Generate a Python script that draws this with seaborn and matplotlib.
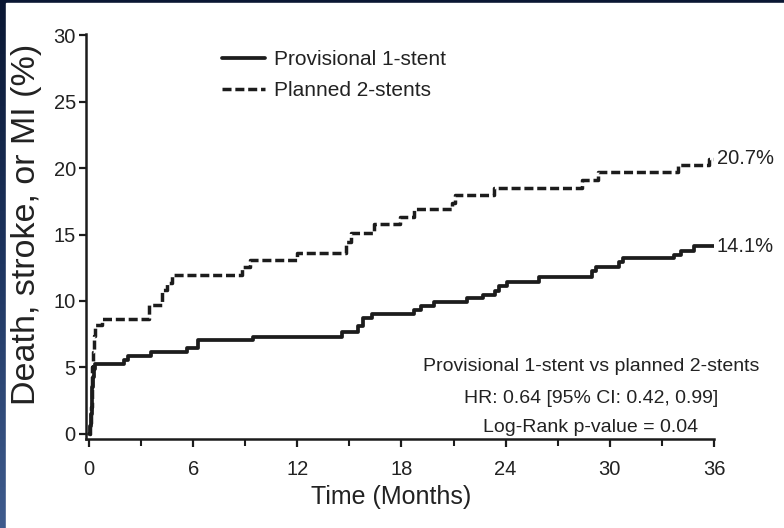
import numpy as np
import pandas as pd
import matplotlib
matplotlib.use("Agg")
import matplotlib.pyplot as plt
from matplotlib.colors import LinearSegmentedColormap
from matplotlib.patches import Rectangle
import seaborn as sns

# Cumulative event curves (months, % with death, stroke or MI)
months_1stent = [0.0, 0.05, 0.1, 0.15, 0.2, 0.25, 0.3, 0.35, 2.0, 2.25, 3.6, 5.65, 6.3, 9.46,
                 14.6, 15.5, 15.8, 16.3, 18.7, 19.1, 19.85, 21.8, 22.7, 23.4, 23.6, 24.1,
                 25.9, 29.0, 29.2, 30.5, 30.75, 33.7, 34.1, 34.85, 36.0]
pct_1stent = [0.0, 0.6, 1.5, 2.6, 3.5, 4.3, 4.9, 5.26, 5.56, 5.86, 6.17, 6.5, 7.07, 7.3,
              7.67, 8.1, 8.7, 9.0, 9.3, 9.6, 9.9, 10.2, 10.45, 10.75, 11.1, 11.4,
              11.8, 12.25, 12.55, 12.9, 13.2, 13.45, 13.75, 14.1, 14.1]

months_2stents = [0.0, 0.05, 0.1, 0.15, 0.2, 0.25, 0.3, 0.35, 0.75, 3.46, 4.2, 4.5, 4.8,
                  8.8, 9.3, 12.0, 14.8, 15.1, 16.4, 17.9, 18.7, 20.9, 21.1, 23.3, 28.4,
                  29.3, 33.9, 35.7, 36.0]
pct_2stents = [0.0, 0.8, 2.0, 3.5, 5.0, 6.2, 7.4, 8.2, 8.65, 9.7, 10.8, 11.35, 11.95,
               12.55, 13.1, 13.6, 14.4, 15.1, 15.8, 16.3, 16.9, 17.4, 18.0, 18.5, 19.1,
               19.7, 20.2, 20.7, 20.7]

series_names = ["Provisional 1-stent", "Planned 2-stents"]
end_labels = ["14.1%", "20.7%"]
x_ticks = [0, 6, 12, 18, 24, 30, 36]
y_ticks = [0, 5, 10, 15, 20, 25, 30]
stats_lines = ["Provisional 1-stent vs planned 2-stents",
               "HR: 0.64 [95% CI: 0.42, 0.99]",
               "Log-Rank p-value = 0.04"]

sns.set_style("ticks")
plt.rcParams["font.family"] = ["Liberation Sans", "DejaVu Sans"]
TXT = "#222222"
INK = "#1c1c1c"

W, H = 784, 528
fig = plt.figure(figsize=(W / 100, H / 100), dpi=100)

# Slide-style backdrop: navy gradient with a white panel
bg = fig.add_axes([0, 0, 1, 1], zorder=-10)
cmap = LinearSegmentedColormap.from_list("navy", ["#0a1733", "#1e3560", "#3f5c8e"])
bg.imshow(np.linspace(0, 1, 256).reshape(-1, 1), aspect="auto", cmap=cmap,
          extent=[0, 1, 0, 1], origin="upper")
bg.add_patch(Rectangle((6 / W, 0), 1, 525 / H, color="white", transform=bg.transAxes))
bg.set_xlim(0, 1)
bg.set_ylim(0, 1)
bg.axis("off")

left_px, right_px, bottom_px, top_px = 85.5, 714.0, 439.3, 33.7
ax = fig.add_axes([left_px / W, 1 - bottom_px / H,
                   (right_px - left_px) / W, (bottom_px - top_px) / H])
ax.set_facecolor("white")

df1 = pd.DataFrame({"t": months_1stent, "p": pct_1stent})
df2 = pd.DataFrame({"t": months_2stents, "p": pct_2stents})

sns.lineplot(data=df1, x="t", y="p", ax=ax, estimator=None, sort=False,
             drawstyle="steps-post", color=INK, linewidth=2.7, label=series_names[0])
sns.lineplot(data=df2, x="t", y="p", ax=ax, estimator=None, sort=False,
             drawstyle="steps-post", color=INK, linewidth=2.5, label=series_names[1])
ax.lines[1].set_linestyle((0, (2.6, 1.1)))

ax.set_xlim(-0.2, 36)
ax.set_ylim(-0.4, 30.1)
ax.set_xticks(x_ticks)
ax.set_xticks(np.arange(3, 36, 6), minor=True)
ax.set_yticks(y_ticks)

for s in ["top", "right"]:
    ax.spines[s].set_visible(False)
for s in ["left", "bottom"]:
    ax.spines[s].set_linewidth(1.8)
    ax.spines[s].set_color(INK)

ax.tick_params(axis="x", which="major", length=6, width=1.6, color=INK,
               labelsize=14.5, labelcolor=TXT, pad=9)
ax.tick_params(axis="x", which="minor", length=5, width=1.5, color=INK)
ax.tick_params(axis="y", which="major", length=5, width=1.6, color=INK,
               labelsize=14.5, labelcolor=TXT, pad=2)

ax.set_xlabel("Time (Months)", fontsize=18, color=TXT)
ax.xaxis.label.set_va("center")
ax.xaxis.set_label_coords((391 - left_px) / (right_px - left_px),
                          (bottom_px - 497) / (bottom_px - top_px))
ax.set_ylabel("Death, stroke, or MI (%)", fontsize=24.5, color=TXT)
ax.yaxis.label.set_va("center")
ax.yaxis.set_label_coords((27 - left_px) / (right_px - left_px),
                          (bottom_px - 224) / (bottom_px - top_px))

# End-of-follow-up rates
ax.text(36.15, pct_1stent[-1], end_labels[0], ha="left", va="center",
        fontsize=14.5, color=TXT, clip_on=False)
ax.text(36.15, pct_2stents[-1], end_labels[1], ha="left", va="center",
        fontsize=14.5, color=TXT, clip_on=False)

# Statistics box text
for txt, yv in zip(stats_lines, [5.04, 2.7, 0.45]):
    ax.text(28.9, yv, txt, ha="center", va="center", fontsize=14, color=TXT)

leg = ax.legend(loc="upper left", bbox_to_anchor=(222 / W, 1 - 50 / H),
                bbox_transform=fig.transFigure, frameon=False, fontsize=15,
                handlelength=2.05, handletextpad=0.45, labelspacing=0.6,
                borderpad=0, borderaxespad=0)
for t in leg.get_texts():
    t.set_color(TXT)

fig.savefig("out.png", dpi=100)
